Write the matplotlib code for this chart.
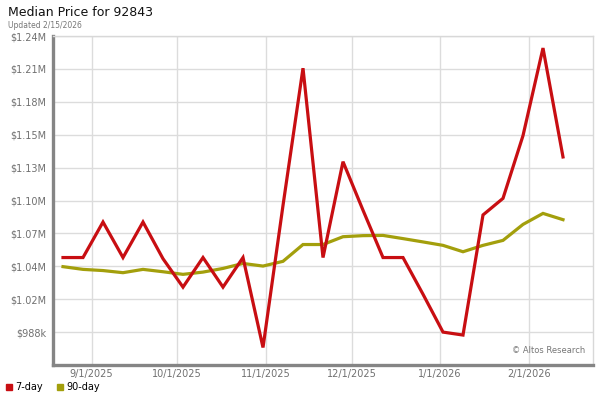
import matplotlib
matplotlib.use("Agg")
import matplotlib.pyplot as plt
from matplotlib.lines import Line2D
import pandas as pd

# ---- data ----
start_date = "2025-08-22"
n_weeks = 26
dates = pd.date_range(start_date, periods=n_weeks, freq="7D")

price_7day = [1051000, 1051000, 1081000, 1051000, 1081000, 1050000, 1026000, 1051000,
              1026000, 1051000, 975000, 1095000, 1211000, 1051000, 1132000, 1091000,
              1051000, 1051000, 1020000, 988000, 985500, 1087000, 1101000, 1154000,
              1228000, 1136000]
price_90day = [1043300, 1041000, 1040000, 1038200, 1041000, 1039000, 1036800, 1038700,
               1041800, 1046000, 1043800, 1047800, 1062000, 1062000, 1068600, 1069500,
               1069700, 1067000, 1064200, 1061300, 1055900, 1061300, 1065500, 1079000,
               1088300, 1083000]

ytick_values = [960200, 988000, 1015800, 1043600, 1071400, 1099200, 1127000,
                1154800, 1182600, 1210400, 1238200]
ytick_labels = ["", "$988k", "$1.02M", "$1.04M", "$1.07M", "$1.10M", "$1.13M",
                "$1.15M", "$1.18M", "$1.21M", "$1.24M"]
xtick_dates = ["2025-09-01", "2025-10-01", "2025-11-01", "2025-12-01",
               "2026-01-01", "2026-02-01"]
xtick_labels = ["9/1/2025", "10/1/2025", "11/1/2025", "12/1/2025",
                "1/1/2026", "2/1/2026"]
series_names = ["7-day", "90-day"]
colors = ["#c80e12", "#a39f0c"]

# ---- figure ----
fig = plt.figure(figsize=(6, 4), dpi=100)
ax = fig.add_axes([53 / 600, 1 - 365 / 400, 540 / 600, 329 / 400])

ax.plot(dates, price_90day, color=colors[1], lw=2.3, solid_joinstyle="miter", zorder=3)
ax.plot(dates, price_7day, color=colors[0], lw=2.3, solid_joinstyle="miter", zorder=4)

ax.set_xlim(pd.Timestamp("2025-08-18 12:00"), pd.Timestamp("2026-02-23 12:00"))
ax.set_ylim(ytick_values[0], ytick_values[-1])

ax.set_yticks(ytick_values)
ax.set_yticklabels(ytick_labels)
ax.set_xticks([pd.Timestamp(d) for d in xtick_dates])
ax.set_xticklabels(xtick_labels)

ax.grid(True, color="#dcdcdc", lw=1)
ax.set_axisbelow(True)
ax.tick_params(axis="both", length=0, labelsize=7, labelcolor="#707070")
ax.tick_params(axis="y", pad=5)
ax.tick_params(axis="x", pad=3)

for s in ["top", "right"]:
    ax.spines[s].set_color("#d8d8d8")
    ax.spines[s].set_linewidth(1)
for s in ["left", "bottom"]:
    ax.spines[s].set_color("#858585")
    ax.spines[s].set_linewidth(2.4)

ax.text(0.985, 0.03, "\u00a9 Altos Research", transform=ax.transAxes,
        ha="right", va="bottom", fontsize=6, color="#777777")

fig.text(8 / 600, 1 - 12 / 400, "Median Price for 92843", fontsize=9,
         ha="left", va="center", color="#111111")
fig.text(8 / 600, 1 - 25 / 400, "Updated 2/15/2026", fontsize=5.5,
         ha="left", va="center", color="#777777")

handles = [Line2D([], [], marker="s", linestyle="none", markersize=4.5,
                  markerfacecolor=c, markeredgecolor=c) for c in colors]
fig.legend(handles, series_names, loc="lower left", bbox_to_anchor=(-0.005, 0.003),
           ncol=2, frameon=False, fontsize=7, handletextpad=0.2,
           columnspacing=1.2, handlelength=1.0, borderaxespad=0.3)

fig.savefig("out.png", dpi=100)
